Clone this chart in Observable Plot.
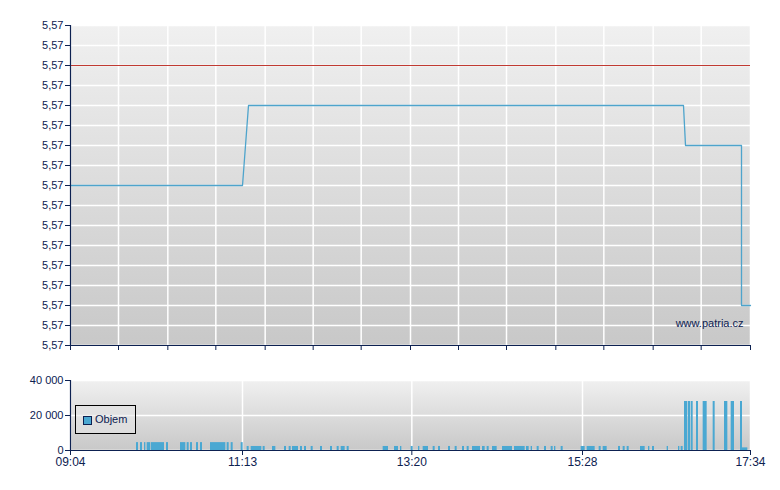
<!DOCTYPE html>
<html><head><meta charset="utf-8">
<script src="https://cdn.jsdelivr.net/npm/d3@7"></script>
<script src="https://cdn.jsdelivr.net/npm/@observablehq/plot@0.6"></script>
<style>
body{margin:0;background:#fff;}
#wrap{position:relative;width:780px;height:490px;font-family:"Liberation Sans",Arial,sans-serif;}
#topc{position:absolute;left:0;top:0;}
#botc{position:absolute;left:0;top:360px;}
#legend{position:absolute;left:75px;top:405px;width:61px;height:29px;border:1px solid #000;background:rgba(230,230,230,0.55);font-size:11px;color:#0d2151;box-sizing:border-box;}
#legend .sw{position:absolute;left:7px;top:10px;width:7px;height:7px;background:#4aa8d2;border:1px solid #0d2151;}
#legend .lb{position:absolute;left:19px;top:7px;line-height:13px;}
</style></head>
<body>
<div id="wrap"><div id="topc"></div><div id="botc"></div>
<div id="legend"><div class="sw"></div><div class="lb">Objem</div></div></div>
<script>
// ---- data ----
const sessionStart = "09:04";
const sessionEnd = "17:34";
const priceTimes  = ["09:04","11:13","11:17:30","16:43:45","16:45:15","17:27:15","17:27:15","17:34"];
const priceValues = [5.5700, 5.5700, 5.5704, 5.5704, 5.5702, 5.5702, 5.5694, 5.5694];
const referencePrice = 5.5706;
const priceTicks = [5.5692,5.5693,5.5694,5.5695,5.5696,5.5697,5.5698,5.5699,5.5700,5.5701,5.5702,5.5703,5.5704,5.5705,5.5706,5.5707,5.5708];
const topGridTimes = ["09:04","09:40","10:17","10:53","11:30","12:06","12:42","13:19","13:55","14:31","15:08","15:44","16:21","16:57","17:34"];
const volumeTicks = [0, 20000, 40000];
const timeTickLabels = ["09:04","11:13","13:20","15:28","17:34"];
const volumeBars = [
 ["09:53:30","09:55:00",4500],["09:56:30","09:58:00",4500],["09:59:30","10:00:30",4500],["10:01:30","10:04:00",4500],
 ["10:04:30","10:14:30",4500],["10:16:00","10:17:30",4500],["10:26:30","10:30:30",4500],["10:31:30","10:33:00",4500],
 ["10:34:00","10:35:30",4500],["10:38:30","10:40:00",4500],["10:41:30","10:43:00",4500],["10:49:00","11:00:30",4500],
 ["11:01:30","11:03:00",4500],["11:04:30","11:06:00",4500],["11:12:00","11:13:30",4500],
 ["11:16:30","11:18:00",2300],["11:19:30","11:27:30",2300],["11:28:30","11:30:00",2300],["11:35:30","11:38:00",2300],
 ["11:44:30","11:46:00",2300],["11:48:00","11:49:30",2300],["11:50:30","11:55:00",2300],["11:56:30","11:58:00",2300],
 ["11:59:30","12:01:00",2300],["12:04:30","12:06:00",2300],["12:11:30","12:13:00",2300],["12:19:00","12:20:30",2300],
 ["12:24:00","12:25:30",2300],["12:27:00","12:30:00",2300],["12:31:30","12:33:00",2300],["12:58:30","13:02:30",2300],
 ["13:07:00","13:10:00",2300],["13:11:30","13:12:30",2300],["13:19:30","13:21:00",2300],["13:25:00","13:26:00",2300],
 ["13:28:30","13:32:30",2300],["13:36:00","13:37:30",2300],["13:40:00","13:41:30",2300],["13:47:30","13:49:00",2300],
 ["13:52:30","13:54:00",2300],["13:58:00","13:59:30",2300],["14:01:30","14:03:00",2300],["14:05:30","14:11:30",2300],
 ["14:13:00","14:15:00",2300],["14:16:30","14:18:00",2300],["14:20:30","14:24:00",2300],["14:28:00","14:35:30",2300],
 ["14:37:00","14:45:00",2300],["14:46:00","14:48:00",2300],["14:49:30","14:50:30",2300],["14:54:00","14:55:30",2300],
 ["14:59:30","15:01:00",2300],["15:04:30","15:06:00",2300],["15:07:00","15:08:00",2300],["15:12:00","15:13:30",2300],
 ["15:27:00","15:30:00",2300],["15:31:30","15:37:30",2300],["15:40:30","15:42:00",2300],["15:43:30","15:46:30",2300],
 ["15:55:00","15:56:30",2300],["15:58:30","16:00:00",2300],["16:01:30","16:03:00",2300],["16:11:30","16:15:00",2300],
 ["16:17:30","16:18:30",2300],["16:20:30","16:22:00",2300],["16:31:30","16:32:30",2300],["16:40:00","16:41:00",2300],
 ["16:42:00","16:43:30",2300],
 ["16:44:30","16:47:00",28000],["16:47:30","16:49:00",28000],["16:49:30","16:51:00",28000],["16:53:30","16:55:00",28000],
 ["16:58:30","17:01:30",28000],["17:06:00","17:07:30",28000],["17:14:30","17:17:00",28000],["17:19:30","17:22:00",28000],
 ["17:26:30","17:28:00",28000],
 ["17:28:00","17:32:00",1500]
];
const watermark = "www.patria.cz";

// ---- helpers ----
function T(s){const p=s.split(":").map(Number);return new Date(Date.UTC(2020,0,1,p[0],p[1],p[2]||0));}
const navy = "#0d2151";
const xDomain = [T(sessionStart), T(sessionEnd)];
const priceData = priceTimes.map((t,i)=>({t:T(t), v:priceValues[i]}));
const bars = volumeBars.map(d=>({s:T(d[0]), e:T(d[1]), v:d[2]}));
const cz = d3.formatLocale({decimal:",", thousands:" ", grouping:[3], currency:["",""]});
const priceFmt = v => cz.format(".2f")(v);
const volFmt = cz.format(",d");
const hm = d3.utcFormat("%H:%M");

function addGradient(svg, id){
  const defs = d3.select(svg).insert("defs", ":first-child");
  const g = defs.append("linearGradient").attr("id", id).attr("x1",0).attr("y1",0).attr("x2",0).attr("y2",1);
  g.append("stop").attr("offset","0%").attr("stop-color","#f0f0f0");
  g.append("stop").attr("offset","100%").attr("stop-color","#c8c8c8");
}
const style = {fontFamily:"'Liberation Sans', Arial, sans-serif", fontSize:"11px", color:navy, background:"transparent", overflow:"visible"};

const topChart = Plot.plot({
  width: 780, height: 360,
  marginLeft: 70, marginRight: 30, marginTop: 25, marginBottom: 15,
  style,
  x: {type:"utc", domain: xDomain},
  y: {domain: [priceTicks[0], priceTicks[priceTicks.length-1]]},
  marks: [
    Plot.frame({fill:"url(#gTop)", stroke:null}),
    Plot.gridX(topGridTimes.map(T), {stroke:"white", strokeOpacity:1, strokeWidth:1.5}),
    Plot.gridY(priceTicks, {stroke:"white", strokeOpacity:1, strokeWidth:1.5}),
    Plot.ruleY([referencePrice], {stroke:"#c03a32", strokeWidth:1}),
    Plot.line(priceData, {x:"t", y:"v", stroke:"#4ea4cc", strokeWidth:1.3}),
    Plot.ruleX([xDomain[0]], {stroke:navy, strokeWidth:1.2}),
    Plot.ruleY([priceTicks[0]], {stroke:navy, strokeWidth:1.2}),
    Plot.axisY(priceTicks, {tickSize:5, tickPadding:2, tickFormat:priceFmt, label:null, stroke:navy, fill:navy}),
    Plot.axisX(topGridTimes.map(T), {tickSize:5, tickFormat:()=>"", label:null, stroke:navy}),
    Plot.text([watermark], {frameAnchor:"bottom-right", textAnchor:"end", lineAnchor:"middle", dx:-7, dy:-22, fill:navy, fontSize:11})
  ]
});
addGradient(topChart, "gTop");
document.getElementById("topc").append(topChart);

const botChart = Plot.plot({
  width: 780, height: 130,
  marginLeft: 70, marginRight: 30, marginTop: 20, marginBottom: 40,
  style,
  x: {type:"utc", domain: xDomain},
  y: {domain: [0, 40000]},
  marks: [
    Plot.frame({fill:"url(#gBot)", stroke:null}),
    Plot.gridX(timeTickLabels.map(T), {stroke:"white", strokeOpacity:1, strokeWidth:1.5}),
    Plot.gridY(volumeTicks, {stroke:"white", strokeOpacity:1, strokeWidth:1.5}),
    Plot.rectY(bars, {x1:"s", x2:"e", y:"v", fill:"#4aa8d2"}),
    Plot.ruleX([xDomain[0]], {stroke:navy, strokeWidth:1.2}),
    Plot.ruleY([0], {stroke:navy, strokeWidth:1.2}),
    Plot.axisY(volumeTicks, {tickSize:5, tickPadding:2, tickFormat:volFmt, label:null, stroke:navy, fill:navy}),
    Plot.axisX(timeTickLabels.map(T), {tickSize:5, tickPadding:2, tickFormat:hm, label:null, stroke:navy, fill:navy, fontSize:12})
  ]
});
addGradient(botChart, "gBot");
document.getElementById("botc").append(botChart);
</script>
</body></html>
